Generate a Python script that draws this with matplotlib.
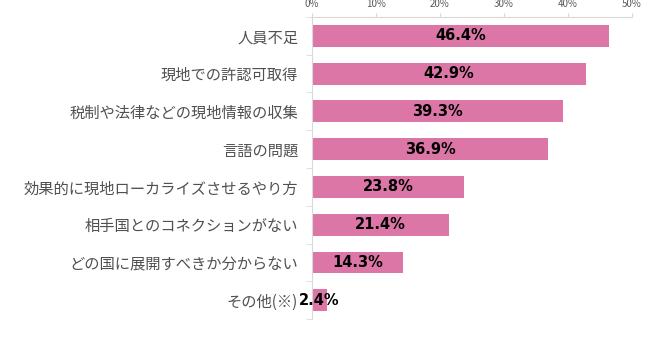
import numpy as np
from matplotlib import pyplot as plt

plt.rcParams['font.family'] = ['Noto Sans CJK JP', 'DejaVu Sans']

categories = ['人員不足', '現地での許認可取得', '税制や法律などの現地情報の収集', '言語の問題',
              '効果的に現地ローカライズさせるやり方', '相手国とのコネクションがない',
              'どの国に展開すべきか分からない', 'その他(※)']
values = [46.4, 42.9, 39.3, 36.9, 23.8, 21.4, 14.3, 2.4]
xticks = [0, 10, 20, 30, 40, 50]

fig = plt.figure(figsize=(6.5, 3.45), dpi=100)
ax = fig.add_axes([0.48, 0.075, 0.492, 0.876])

y = np.arange(len(categories))
ax.barh(y, values, height=0.58, color='#DC76A7')
for yi, v in zip(y, values):
    ax.text(v / 2, yi, f'{v:.1f}%', ha='center', va='center',
            fontsize=10.5, fontweight='bold', color='black', family='DejaVu Sans')

ax.set_ylim(len(categories) - 0.5, -0.5)
ax.set_xlim(0, 50)
ax.set_yticks(y)
ax.set_yticklabels(categories, fontsize=11, color='#505050')
ax.set_yticks(np.arange(len(categories) + 1) - 0.5, minor=True)
ax.tick_params(axis='y', which='major', length=0, pad=10)
ax.tick_params(axis='y', which='minor', length=4, color='#d9d9d9')

ax.xaxis.tick_top()
ax.set_xticks(xticks)
ax.set_xticklabels([f'{t}%' for t in xticks], fontsize=7, color='#595959')
ax.tick_params(axis='x', length=3, color='#d9d9d9', pad=3)

for s in ['right', 'bottom']:
    ax.spines[s].set_visible(False)
ax.spines['top'].set_color('#d9d9d9')
ax.spines['left'].set_color('#d9d9d9')

fig.savefig('out.png', dpi=100)
